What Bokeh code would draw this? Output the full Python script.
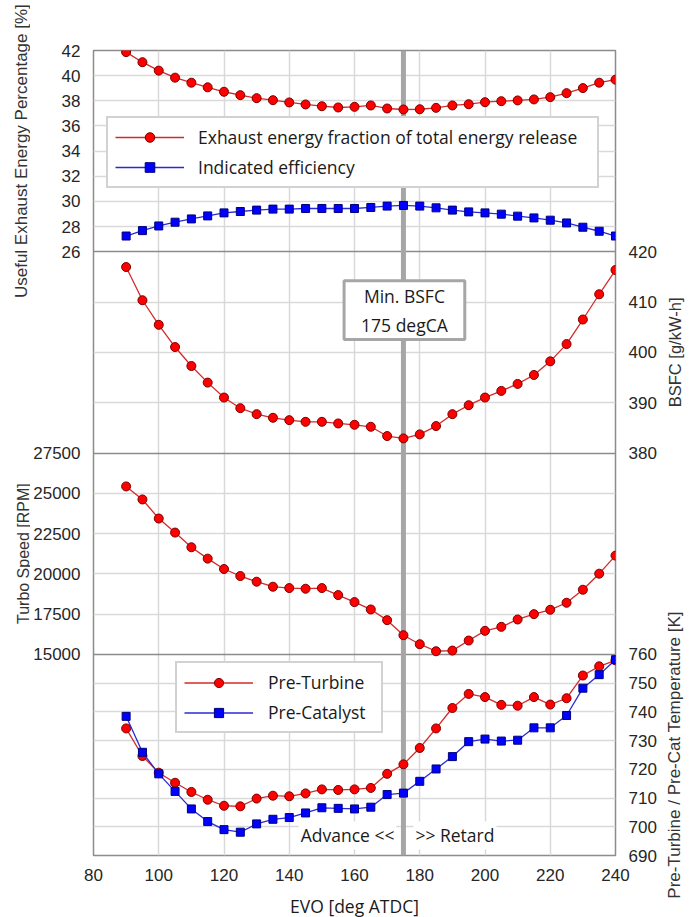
import math
from bokeh.plotting import figure
from bokeh.layouts import row
from bokeh.models import (Range1d, LinearAxis, FixedTicker, CustomJSTickFormatter, Grid,
                          Span, Label, Legend, LegendItem, ColumnDataSource)
from bokeh.core.properties import value
from bokeh.embed import file_html
from bokeh.resources import INLINE

# ---------------- data ----------------
evo = [90, 95, 100, 105, 110, 115, 120, 125, 130, 135, 140, 145, 150, 155, 160, 165,
       170, 175, 180, 185, 190, 195, 200, 205, 210, 215, 220, 225, 230, 235, 240]

exhaust_frac = [41.87, 41.07, 40.40, 39.84, 39.44, 39.07, 38.72, 38.45, 38.21, 38.05, 37.87,
                37.71, 37.57, 37.47, 37.52, 37.63, 37.39, 37.31, 37.33, 37.44, 37.63, 37.73,
                37.89, 37.97, 38.03, 38.11, 38.29, 38.61, 39.01, 39.44, 39.68]
indicated_eff = [27.25, 27.68, 28.05, 28.35, 28.61, 28.85, 29.09, 29.20, 29.31, 29.39, 29.39,
                 29.44, 29.44, 29.44, 29.44, 29.52, 29.63, 29.68, 29.63, 29.49, 29.31, 29.17,
                 29.09, 28.99, 28.83, 28.69, 28.51, 28.29, 27.95, 27.63, 27.25]
bsfc = [416.96, 410.36, 405.48, 401.06, 397.29, 393.99, 391.02, 388.91, 387.72, 387.00, 386.53,
        386.20, 386.20, 385.87, 385.61, 385.21, 383.37, 382.90, 383.70, 385.35, 387.72, 389.50,
        391.02, 392.34, 393.73, 395.51, 398.22, 401.65, 406.53, 411.55, 416.37]
turbo_speed = [25424, 24614, 23430, 22558, 21645, 20939, 20295, 19859, 19506, 19194, 19111,
               19070, 19111, 18675, 18239, 17782, 17118, 16183, 15623, 15187, 15228, 15851,
               16453, 16702, 17159, 17492, 17762, 18198, 19008, 20004, 21126]
pre_turbine = [734.2, 724.6, 718.8, 715.3, 712.1, 709.4, 707.3, 707.1, 709.8, 710.8, 710.6,
               711.6, 713.0, 712.8, 713.0, 713.5, 718.4, 721.7, 727.4, 734.2, 741.3, 746.2,
               745.1, 742.4, 742.1, 745.1, 742.5, 744.7, 752.6, 755.8, 757.9]
pre_catalyst = [738.4, 725.9, 718.4, 712.3, 706.2, 701.8, 699.0, 698.1, 701.0, 702.6, 703.2,
                704.8, 706.6, 706.4, 706.2, 706.8, 711.2, 711.7, 715.8, 720.1, 724.4, 729.6,
                730.5, 729.8, 730.1, 734.4, 734.4, 738.7, 748.2, 752.9, 758.1]

x_ticks = [80, 100, 120, 140, 160, 180, 200, 220, 240]
eff_ticks = [26, 28, 30, 32, 34, 36, 38, 40, 42]
bsfc_ticks = [380, 390, 400, 410, 420]
turbo_ticks = [15000, 17500, 20000, 22500, 25000, 27500]
temp_ticks = [690, 700, 710, 720, 730, 740, 750, 760]

eff_label = "Useful Exhaust Energy Percentage [%]"
bsfc_label = "BSFC [g/kW-h]"
turbo_label = "Turbo Speed [RPM]"
temp_label = "Pre-Turbine / Pre-Cat Temperature [K]"
x_label = "EVO [deg ATDC]"

# panel name, ticks, slot index (0 = bottom)
panels = [("eff", eff_ticks, 3), ("bsfc", bsfc_ticks, 2), ("turbo", turbo_ticks, 1), ("temp", temp_ticks, 0)]
N = len(panels)

RED, RED_EDGE, RED_LINE = "#ff0000", "#7a0000", "#d42a2a"
BLUE, BLUE_EDGE, BLUE_LINE = "#0000ff", "#00007a", "#2a2ad4"
FRAME = "#8c8c8c"
GRID = "#d9d9d9"
TXT = "#1a1a1a"
CAL = "Open Sans"
ARIAL = "Liberation Sans"

# layout (pixels)
FW, FH = 522, 805
TOP, BOTTOM = 50, 60
LEFT_W, RIGHT_W = 30, 34
MAIN_L, MAIN_R = 62, 46
H = TOP + FH + BOTTOM
PPU = FH / N  # pixels per panel slot


def slot_range(ticks, slot):
    lo, hi = ticks[0], ticks[-1]
    w = hi - lo
    return Range1d(lo - slot * w, hi + (N - 1 - slot) * w)


def slot_pos(v, ticks, slot):
    return slot + (v - ticks[0]) / (ticks[-1] - ticks[0])


p = figure(frame_width=FW, frame_height=FH, x_range=Range1d(80, 240), y_range=Range1d(0, N),
           x_axis_type=None, y_axis_type=None, output_backend="svg", toolbar_location=None,
           min_border_left=MAIN_L, min_border_right=MAIN_R, min_border_top=TOP, min_border_bottom=BOTTOM,
           background_fill_color="white", border_fill_color="white",
           outline_line_color=FRAME, outline_line_width=1.5, frame_align=False)
p.extra_y_ranges = {name: slot_range(t, s) for name, t, s in panels}

# ---------------- grids ----------------
inner = []
for name, t, s in panels:
    inner += [slot_pos(v, t, s) for v in t[1:-1]]
p.add_layout(Grid(dimension=0, ticker=FixedTicker(ticks=x_ticks[1:-1]),
                  grid_line_color=GRID, grid_line_width=1.5))
p.add_layout(Grid(dimension=1, ticker=FixedTicker(ticks=inner),
                  grid_line_color=GRID, grid_line_width=1.5))
p.add_layout(Grid(dimension=1, ticker=FixedTicker(ticks=list(range(1, N))),
                  grid_line_color=FRAME, grid_line_width=1.5))

min_evo = evo[bsfc.index(min(bsfc))]
p.add_layout(Span(location=min_evo, dimension="height", line_color="#a6a6a6",
                  line_width=5, level="underlay"))

# ---------------- axes ----------------
JS = ("for (let i = 0; i < pos.length; i++) { if (Math.abs(pos[i] - tick) < 1e-6) { return lab[i]; } }"
      " return '';")


def style(ax, standoff):
    ax.axis_line_color = None
    ax.major_tick_line_color = None
    ax.minor_tick_line_color = None
    ax.major_label_text_font = ARIAL
    ax.major_label_text_font_size = "17px"
    ax.major_label_text_color = "#262626"
    ax.major_label_standoff = standoff


def panel_axis(names, standoff):
    pos, lab = [], []
    for name, t, s in panels:
        if name in names:
            for v in t:
                pos.append(slot_pos(v, t, s))
                lab.append(str(v))
    ax = LinearAxis(ticker=FixedTicker(ticks=pos),
                    formatter=CustomJSTickFormatter(args=dict(pos=pos, lab=lab), code=JS))
    style(ax, standoff)
    return ax


p.add_layout(panel_axis(["eff", "turbo"], 7), "left")
p.add_layout(panel_axis(["bsfc", "temp"], 7), "right")

xax = LinearAxis(ticker=FixedTicker(ticks=x_ticks), axis_label=x_label)
style(xax, 7)
xax.axis_label_text_font = CAL
xax.axis_label_text_font_size = "17.5px"
xax.axis_label_text_font_style = "normal"
xax.axis_label_text_color = TXT
xax.axis_label_standoff = 10
p.add_layout(xax, "below")

# ---------------- data series ----------------
src = ColumnDataSource(dict(evo=evo, exh=exhaust_frac, ind=indicated_eff, bsfc=bsfc,
                            turbo=turbo_speed, pt=pre_turbine, pc=pre_catalyst))


def series(col, rname, red):
    lc, fc, ec, mk, sz = ((RED_LINE, RED, RED_EDGE, "circle", 9) if red
                          else (BLUE_LINE, BLUE, BLUE_EDGE, "square", 8))
    l = p.line("evo", col, source=src, y_range_name=rname, line_color=lc, line_width=1.3)
    s = p.scatter("evo", col, source=src, y_range_name=rname, marker=mk, size=sz,
                  fill_color=fc, line_color=ec, line_width=1)
    return [l, s]


r_exh = series("exh", "eff", True)
r_ind = series("ind", "eff", False)
series("bsfc", "bsfc", True)
series("turbo", "turbo", True)
r_pt = series("pt", "temp", True)
r_pc = series("pc", "temp", False)

# ---------------- legends ----------------
leg_common = dict(padding=7, spacing=6, margin=0, label_text_font=CAL, label_text_font_size="17.5px",
                  label_text_color=TXT, border_line_color="#a6a6a6", border_line_width=2,
                  background_fill_color="white", background_fill_alpha=1.0)
leg1 = Legend(items=[LegendItem(label="Exhaust energy fraction of total energy release", renderers=r_exh),
                     LegendItem(label="Indicated efficiency", renderers=r_ind)],
              location=(13, 667), glyph_width=69, glyph_height=24, label_standoff=14,
              label_width=392, **leg_common)
leg2 = Legend(items=[LegendItem(label="Pre-Turbine", renderers=r_pt),
                     LegendItem(label="Pre-Catalyst", renderers=r_pc)],
              location=(82, 122), glyph_width=69, glyph_height=23, label_standoff=15,
              label_width=106, **leg_common)
p.add_layout(leg1)
p.add_layout(leg2)

# ---------------- annotations ----------------
p.add_layout(Label(x=min_evo, y=408.4, y_range_name="bsfc", x_offset=1,
                   text=f"Min. BSFC\n{min_evo} degCA", text_align="center", text_baseline="middle",
                   text_font=CAL, text_font_size="17.5px", text_color=TXT, text_line_height=1.2,
                   background_fill_color="white", border_line_color="#a6a6a6", border_line_width=3,
                   padding=dict(left=17, right=17, top=3, bottom=3)))
p.add_layout(Label(x=min_evo, y=697, y_range_name="temp", x_offset=-7, text="Advance <<",
                   text_align="right", text_baseline="middle", text_font=CAL, text_font_size="17.5px",
                   text_color=TXT, background_fill_color="white", padding=2))
p.add_layout(Label(x=min_evo, y=697, y_range_name="temp", x_offset=10, text=">> Retard",
                   text_align="left", text_baseline="middle", text_font=CAL, text_font_size="17.5px",
                   text_color=TXT, background_fill_color="white", padding=2))


# ---------------- side strips for the rotated axis titles ----------------
def strip(w):
    return figure(frame_width=w, frame_height=H, min_border=0,
                  x_range=Range1d(0, w), y_range=Range1d(-BOTTOM / PPU, N + TOP / PPU),
                  x_axis_type=None, y_axis_type=None, outline_line_color=None,
                  background_fill_color="white", border_fill_color="white",
                  toolbar_location=None, output_backend="svg", frame_align=False)


slots = {name: s for name, t, s in panels}
left = strip(LEFT_W)
right = strip(RIGHT_W)


def vtext(fig, text, x, slot, size):
    fig.text(x=[x], y=[slot + 0.5], text=[text], angle=math.pi / 2, text_align="center",
             text_baseline="middle", text_font=value(ARIAL), text_font_size=size,
             text_color="#333333")


vtext(left, eff_label, 21, slots["eff"], "17px")
vtext(left, turbo_label, 22.5, slots["turbo"], "16px")
vtext(right, bsfc_label, 13, slots["bsfc"], "16.5px")
vtext(right, temp_label, 13, slots["temp"], "17px")

layout = row(left, p, right, spacing=0)
open("out.html", "w").write(file_html(layout, INLINE))
